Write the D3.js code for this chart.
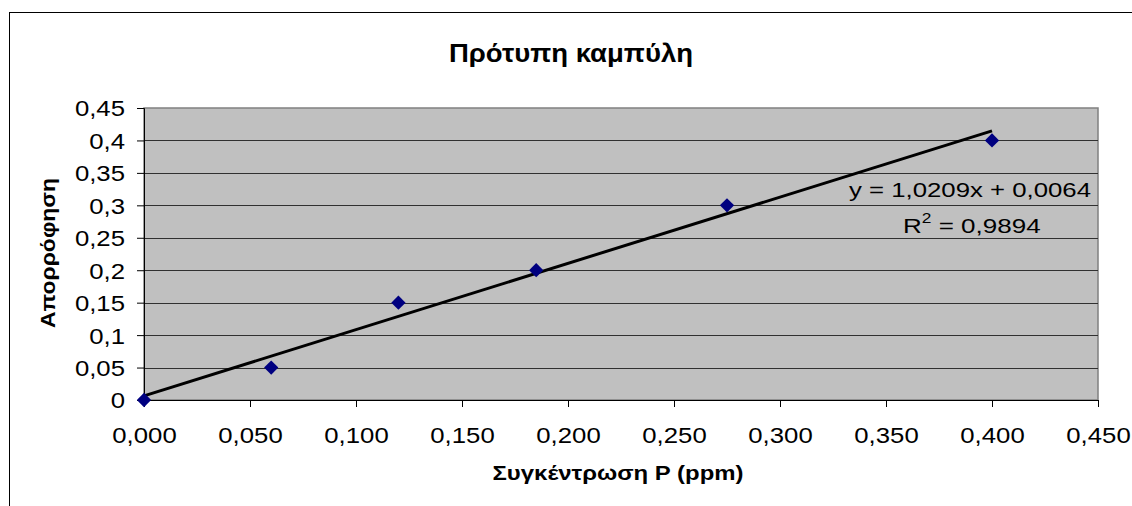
<!DOCTYPE html>
<html>
<head>
<meta charset="utf-8">
<script src="https://cdn.jsdelivr.net/npm/d3@7"></script>
<style>
  body { margin: 0; background: #fff; }
  text { font-family: "Liberation Sans", Arial, sans-serif; fill: #000; }
</style>
</head>
<body>
<div id="chart"></div>
<script>
// data
const concentration = [0, 0.06, 0.12, 0.185, 0.275, 0.4]
const absorbance = [0, 0.05, 0.15, 0.2, 0.3, 0.4]
const xTicks = [0, 0.05, 0.1, 0.15, 0.2, 0.25, 0.3, 0.35, 0.4, 0.45]
const yTicks = [0, 0.05, 0.1, 0.15, 0.2, 0.25, 0.3, 0.35, 0.4, 0.45]
const slope = 1.0209, intercept = 0.0064
const trendRange = [0, 0.4]
const titleText = 'Πρότυπη καμπύλη'
const xTitle = 'Συγκέντρωση P (ppm)'
const yTitle = 'Απορρόφηση'
const eqText = 'y = 1,0209x + 0,0064'
const r2Value = '0,9894'

const width = 1132, height = 506
const plot = { left: 144, top: 108, right: 1098, bottom: 400 }
const stretch = 1.17

const svg = d3.select('#chart').append('svg')
    .attr('width', width)
    .attr('height', height)

// outer chart frame (right/bottom edges fall outside the shot)
svg.append('rect')
    .attr('x', 9.5).attr('y', 12.5)
    .attr('width', 1140).attr('height', 520)
    .attr('fill', 'none').attr('stroke', '#000').attr('stroke-width', 1)

const x = d3.scaleLinear().domain([0, 0.45]).range([plot.left, plot.right])
const y = d3.scaleLinear().domain([0, 0.45]).range([plot.bottom, plot.top])

// plot area
svg.append('rect')
    .attr('x', plot.left).attr('y', plot.top)
    .attr('width', plot.right - plot.left).attr('height', plot.bottom - plot.top)
    .attr('fill', '#c0c0c0').attr('stroke', '#808080').attr('stroke-width', 1.5)

// gridlines
svg.append('g').selectAll('line')
    .data(yTicks.slice(1, -1))
    .join('line')
    .attr('x1', plot.left).attr('x2', plot.right)
    .attr('y1', d => Math.round(y(d)) + 0.5).attr('y2', d => Math.round(y(d)) + 0.5)
    .attr('stroke', '#303030').attr('stroke-width', 1)

const fmt = (d, dec) => d3.format('.' + dec + 'f')(d).replace('.', ',')
const yFmt = d => d === 0 ? '0' : String(+d.toFixed(2)).replace('.', ',')

// y axis
const yAxis = svg.append('g')
    .attr('transform', `translate(${plot.left},0)`)
    .call(d3.axisLeft(y).tickValues(yTicks).tickFormat(yFmt).tickSize(7).tickPadding(0))
yAxis.select('.domain').attr('stroke', '#000')
yAxis.selectAll('.tick line').attr('stroke', '#000')
yAxis.selectAll('.tick text')
    .attr('x', -19 / stretch)
    .attr('dy', '0.36em')
    .attr('transform', `scale(${stretch},1)`)
    .style('font-size', '22px')
    .attr('fill', '#000')

// x axis
const xAxis = svg.append('g')
    .attr('transform', `translate(0,${plot.bottom})`)
    .call(d3.axisBottom(x).tickValues(xTicks).tickFormat(d => fmt(d, 3)).tickSize(7).tickPadding(0))
xAxis.select('.domain').attr('stroke', '#000')
xAxis.selectAll('.tick line').attr('stroke', '#000')
xAxis.selectAll('.tick text')
    .attr('y', 43).attr('dy', 0)
    .attr('transform', `scale(${stretch},1)`)
    .style('font-size', '22px')
    .attr('fill', '#000')

// linear trendline
svg.append('path')
    .datum(trendRange)
    .attr('d', d3.line().x(d => x(d)).y(d => y(slope * d + intercept)))
    .attr('stroke', '#000').attr('stroke-width', 3).attr('fill', 'none')

// markers
svg.append('g').selectAll('path')
    .data(concentration.map((c, i) => [c, absorbance[i]]))
    .join('path')
    .attr('d', d3.symbol(d3.symbolDiamond2, 130))
    .attr('transform', d => `translate(${x(d[0])},${y(d[1])})`)
    .attr('fill', '#000080')

// titles
svg.append('text')
    .attr('x', 571).attr('y', 62)
    .attr('text-anchor', 'middle')
    .attr('textLength', 244).attr('lengthAdjust', 'spacingAndGlyphs')
    .style('font-size', '25px').style('font-weight', 'bold')
    .text(titleText)

svg.append('text')
    .attr('x', 618).attr('y', 480)
    .attr('text-anchor', 'middle')
    .attr('textLength', 251).attr('lengthAdjust', 'spacingAndGlyphs')
    .style('font-size', '20px').style('font-weight', 'bold')
    .text(xTitle)

svg.append('text')
    .attr('transform', 'translate(55,253) rotate(-90)')
    .attr('text-anchor', 'middle')
    .attr('textLength', 150).attr('lengthAdjust', 'spacingAndGlyphs')
    .style('font-size', '20px').style('font-weight', 'bold')
    .text(yTitle)

// trendline label
svg.append('text')
    .attr('x', 849).attr('y', 197)
    .attr('textLength', 242).attr('lengthAdjust', 'spacingAndGlyphs')
    .style('font-size', '20px')
    .text(eqText)

const r2 = svg.append('text')
    .attr('transform', 'translate(903,233) scale(1.24,1)')
    .style('font-size', '21px')
r2.append('tspan').text('R')
r2.append('tspan').attr('dy', -10).style('font-size', '14px').text('2')
r2.append('tspan').attr('dy', 10).text(' = ' + r2Value)
</script>
</body>
</html>
